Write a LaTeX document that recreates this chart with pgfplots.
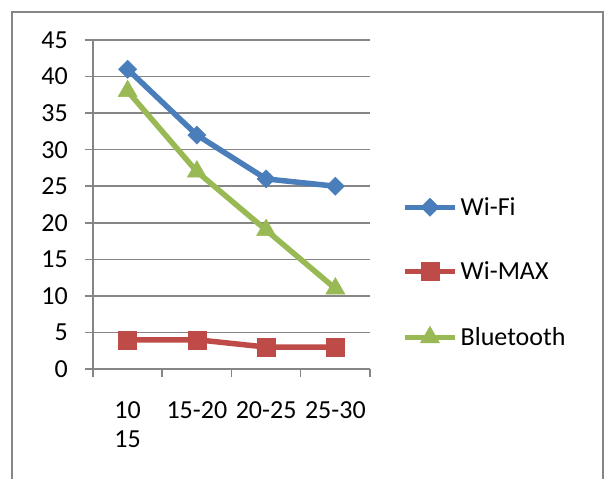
\documentclass[border=0pt]{standalone}
\usepackage{fontspec}
\setmainfont{Carlito}
\usepackage{pgfplots}
\pgfplotsset{compat=1.18}
\definecolor{cwifi}{RGB}{74,126,187}
\definecolor{cwimax}{RGB}{190,75,72}
\definecolor{cbt}{RGB}{152,185,84}
\definecolor{cgrid}{RGB}{134,134,134}
\begin{document}
\begin{tikzpicture}[x=1pt,y=1pt,font=\fontsize{26}{29}\selectfont]
\useasboundingbox (0,0) rectangle (606,479);
\draw[cgrid, line width=2pt] (12,-2) -- (12,467) -- (603,467) -- (603,-2);
\begin{axis}[
  at={(93pt,110pt)}, anchor=south west,
  width=277pt, height=329pt, scale only axis,
  xmin=-0.5, xmax=3.5, ymin=0, ymax=45,
  xtick={0,1,2,3},
  xticklabels={{10\\15},{15-20},{20-25},{25-30}},
  xticklabel style={align=left, anchor=north, yshift=-24pt, inner sep=0pt},
  major x tick style={draw=none},
  minor xtick={-0.5,0.5,1.5,2.5,3.5},
  minor tick length=8pt,
  ytick={0,5,...,45},
  major tick length=8pt,
  tick align=outside,
  tick style={cgrid, line width=1.5pt},
  ymajorgrids,
  grid style={cgrid, line width=1.5pt},
  axis x line*=bottom, axis y line*=left,
  axis line style={cgrid, line width=1.5pt, -},
  /pgf/number format/assume math mode=true,
  yticklabel style={inner sep=0pt, xshift=-17pt, anchor=east},
  legend style={at={(1.1156,0.2948)}, anchor=west, draw=none, fill=none,
    inner sep=0pt, row sep=46pt, column sep=0pt,
    nodes={inner xsep=3pt, inner ysep=0pt, text height=17pt, text depth=0pt}},
  legend cell align=left,
  legend image code/.code={
    \draw[mark repeat=2,mark phase=2,#1] plot coordinates {(0pt,0pt) (25pt,0pt) (50pt,0pt)};
  },
  every axis plot/.append style={line width=5.5pt},
]
\addplot[cwifi, mark=square*, mark size=6.4pt, mark options={solid, line width=0.5pt, rotate=45}] coordinates {(0,41) (1,32) (2,26) (3,25)};
\addlegendentry{Wi-Fi}
\addplot[cwimax, mark=square*, mark size=9pt, mark options={solid, line width=0.5pt}] coordinates {(0,4) (1,4) (2,3) (3,3)};
\addlegendentry{Wi-MAX}
\addplot[cbt, mark=triangle*, mark size=11pt, mark options={solid, line width=0.5pt}] coordinates {(0,38) (1,27) (2,19) (3,11)};
\addlegendentry{Bluetooth}
\end{axis}
\end{tikzpicture}
\end{document}
